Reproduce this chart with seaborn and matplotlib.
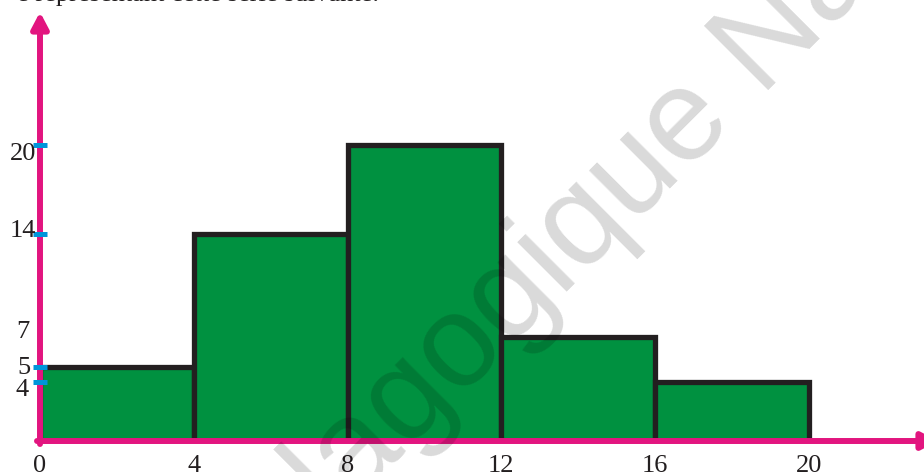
import matplotlib
matplotlib.use("Agg")
import matplotlib.pyplot as plt
import matplotlib.transforms as mtransforms
import pandas as pd
import seaborn as sns

# Class boundaries and frequencies of the series
bin_edges = [0, 4, 8, 12, 16, 20]
frequencies = [5, 14, 20, 7, 4]
x_tick_labels = ["0", "4", "8", "12", "16", "20"]
y_tick_values = [4, 5, 7, 14, 20]
y_tick_labels = ["4", "5", "7", "14", "20"]
marked_values = [4, 5, 14, 20]  # values that get a tick mark on the vertical axis

class_mid = [(a + b) / 2 for a, b in zip(bin_edges[:-1], bin_edges[1:])]
df = pd.DataFrame({"classe": class_mid, "effectif": frequencies})

sns.set_style("white")
plt.rcParams["font.family"] = ["Liberation Serif", "DejaVu Serif"]

BAR = "#009140"
EDGE = "#231f20"
AXIS = "#e2157f"
TICK = "#0095da"

# hand-placed nudges (in pixels, right / down) of the vertical-axis labels
label_nudge = {20: (1, 7), 14: (0, -5), 7: (-6, -8), 5: (-5, -1), 4: (-7, 6)}

W, H = 924, 472
fig = plt.figure(figsize=(W / 100, H / 100), dpi=100)
ax = fig.add_axes([40 / W, 31 / H, (W - 40) / W, (H - 31) / H])

sns.histplot(data=df, x="classe", weights="effectif", bins=bin_edges, ax=ax,
             color=BAR, alpha=1, edgecolor=EDGE, linewidth=3.8, zorder=1)

ax.set_xlim(0, (W - 40) / 38.45)
ax.set_ylim(0, (H - 31) / 14.8)
ax.set_xlabel("")
ax.set_ylabel("")
for s in ax.spines.values():
    s.set_visible(False)

ax.set_xticks(bin_edges, x_tick_labels)
ax.set_yticks(y_tick_values, y_tick_labels)
ax.tick_params(axis="x", length=0, pad=10, labelsize=19, labelcolor=EDGE)
ax.tick_params(axis="y", direction="inout", length=9.4, width=3.6, color=TICK,
               pad=-1.5, labelsize=19, labelcolor=EDGE)
for tick, v in zip(ax.yaxis.get_major_ticks(), y_tick_values):
    tick.tick1line.set_visible(v in marked_values)
    dx, dy = label_nudge[v]
    shift = mtransforms.ScaledTranslation(dx / 100, -dy / 100, fig.dpi_scale_trans)
    tick.label1.set_transform(tick.label1.get_transform() + shift)
ax.set_axisbelow(False)

# Axes drawn as arrows
arrow = dict(arrowstyle="-|>,head_length=0.95,head_width=0.5", color=AXIS,
             lw=4.3, shrinkA=0, shrinkB=0, mutation_scale=10)
ax.annotate("", xy=(0, (H - 31 - 12) / (H - 31)), xytext=(0, -3 / (H - 31)),
            xycoords="axes fraction", arrowprops=arrow, zorder=2.2,
            annotation_clip=False)
ax.annotate("", xy=((938 - 40) / (W - 40), 0), xytext=(-3 / (W - 40), 0),
            xycoords="axes fraction", arrowprops=arrow, zorder=2.2,
            annotation_clip=False)

# Line of text above the figure (only its lowest part falls on the canvas)
fig.text(17 / W, 1 - 1 / H, "e représentant cette série suivante.",
         fontsize=19, color=EDGE, ha="left", va="baseline")

# Watermark
fig.text(191.5 / W, (H - 666.5) / H, "Pédagogique Nationale", rotation=45,
         rotation_mode="anchor", ha="left", va="baseline", fontsize=94,
         family="Liberation Sans", color="black", alpha=0.15)

fig.savefig("out.png", dpi=100)
